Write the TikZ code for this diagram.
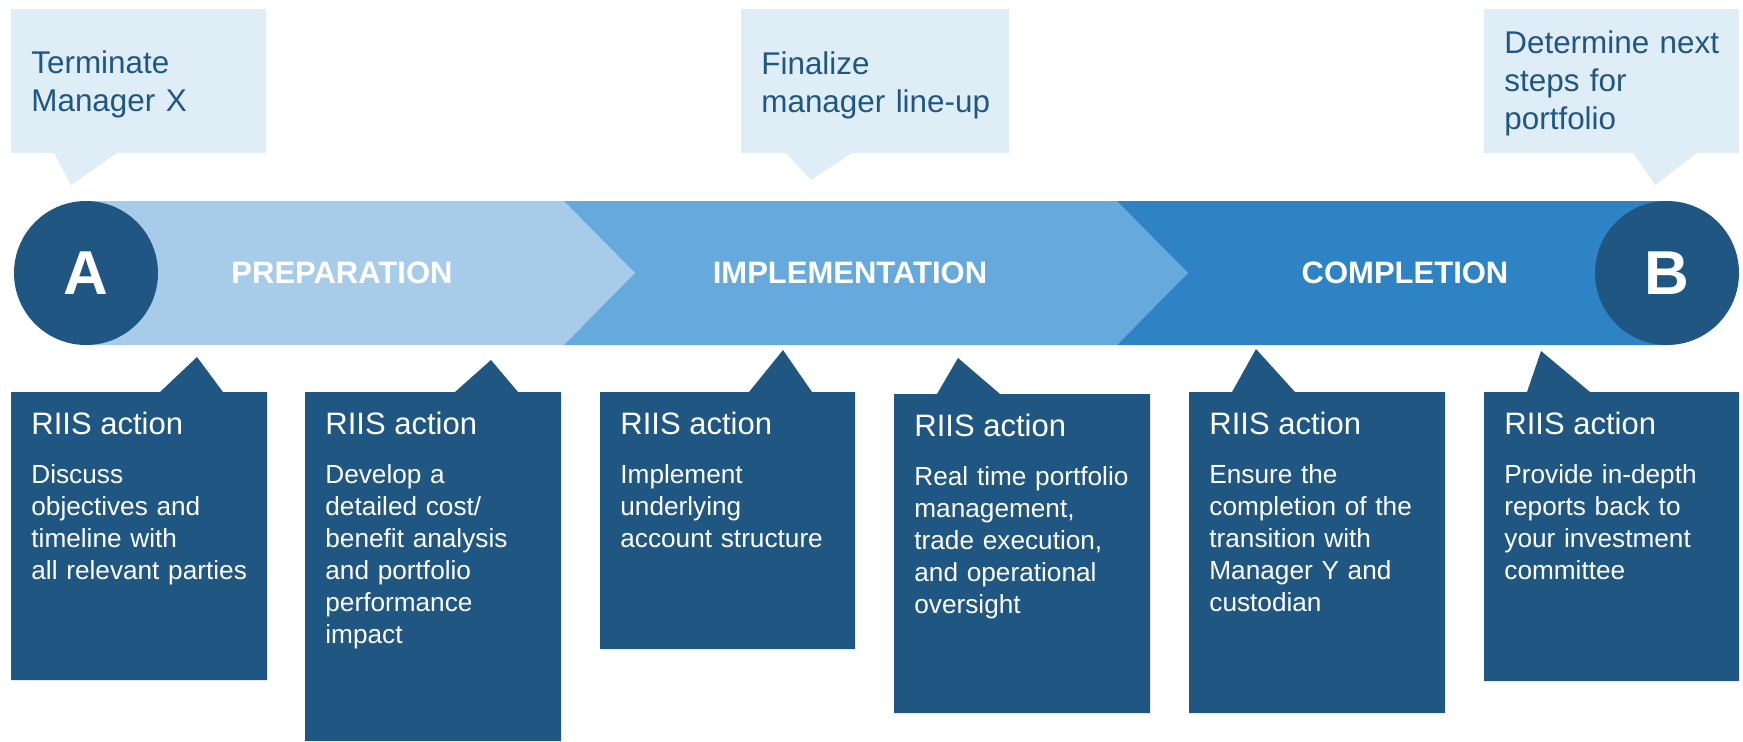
\documentclass[tikz,border=0pt]{standalone}
\usepackage{fontspec}
\setmainfont{Liberation Sans}

\definecolor{navy}{HTML}{1F5782}
\definecolor{bandlight}{HTML}{A6CCEA}
\definecolor{bandmid}{HTML}{66A9DC}
\definecolor{banddark}{HTML}{2E83C5}
\definecolor{calloutbg}{HTML}{DFEDF7}

\tikzset{
  phase/.style={text=white, inner sep=0pt, font=\bfseries\fontsize{15.5}{18}\selectfont},
  milestone/.style={circle, fill=navy, minimum size=72pt, inner sep=0pt, text=white, font=\bfseries\fontsize{31}{36}\selectfont},
  goal/.style={anchor=base west, text=navy, text width=125pt, align=left, inner sep=0pt, font=\fontsize{15.7}{19}\selectfont},
  riis/.style={anchor=base west, text=white, inner sep=0pt, font=\fontsize{15.5}{18}\selectfont},
  task/.style={anchor=base west, text=white, text width=118pt, align=left, inner sep=0pt, font=\fontsize{13.1}{16}\selectfont},
}

\begin{document}
\begin{tikzpicture}[x=0.5pt, y=-0.5pt]
            \useasboundingbox (0,0) rectangle (1743,741);

            % callouts on top
            \fill[calloutbg] (11,9) -- (266,9) -- (266,153) -- (117,153) -- (71,185) -- (54,153) -- (11,153) -- cycle;
            \fill[calloutbg] (741,9) -- (1009,9) -- (1009,153) -- (852,153) -- (811,180) -- (786,153) -- (741,153) -- cycle;
            \fill[calloutbg] (1484,9) -- (1739,9) -- (1739,153) -- (1697,153) -- (1655,185) -- (1633,153) -- (1484,153) -- cycle;
            \node[goal] (goal1) at (31,73) {Terminate\\Manager X};
            \node[goal] (goal2) at (761,74) {Finalize\\manager line-up};
            \node[goal] (goal3) at (1504,53) {Determine next\\steps for\\portfolio};

            % the band
            \fill[bandlight] (86,201) -- (564,201) -- (635,273) -- (564,345) -- (86,345) -- cycle;
            \fill[bandmid] (564,201) -- (1117,201) -- (1188,273) -- (1117,345) -- (564,345) -- (635,273) -- cycle;
            \fill[banddark] (1117,201) -- (1667,201) -- (1667,345) -- (1117,345) -- (1188,273) -- cycle;
            \node[phase] (prep) at (342,273) {PREPARATION};
            \node[phase] (impl) at (850,273) {IMPLEMENTATION};
            \node[phase] (compl) at (1405,273) {COMPLETION};
            \node[milestone] (A) at (86,273) {A};
            \node[milestone] (B) at (1667,273) {B};

            % action boxes below
            \fill[navy] (11,392) -- (160,392) -- (197,357) -- (223,392) -- (267,392) -- (267,680) -- (11,680) -- cycle;
            \fill[navy] (305,392) -- (455,392) -- (491,360) -- (518,392) -- (561,392) -- (561,741) -- (305,741) -- cycle;
            \fill[navy] (600,392) -- (749,392) -- (783,350) -- (812,392) -- (855,392) -- (855,649) -- (600,649) -- cycle;
            \fill[navy] (894,394) -- (937,394) -- (958,358) -- (1000,394) -- (1150,394) -- (1150,713) -- (894,713) -- cycle;
            \fill[navy] (1189,392) -- (1232,392) -- (1256,349) -- (1295,392) -- (1445,392) -- (1445,713) -- (1189,713) -- cycle;
            \fill[navy] (1484,392) -- (1527,392) -- (1541,351) -- (1590,392) -- (1739,392) -- (1739,681) -- (1484,681) -- cycle;

            \node[riis] (head1) at (31,434) {RIIS action};
            \node[riis] (head2) at (325,434) {RIIS action};
            \node[riis] (head3) at (620,434) {RIIS action};
            \node[riis] (head4) at (914,436) {RIIS action};
            \node[riis] (head5) at (1209,434) {RIIS action};
            \node[riis] (head6) at (1504,434) {RIIS action};

            \node[task] (task1) at (31,483) {Discuss\\objectives and\\timeline with\\all relevant parties};
            \node[task] (task2) at (325,483) {Develop a\\detailed cost/\\benefit analysis\\and portfolio\\performance\\impact};
            \node[task] (task3) at (620,483) {Implement\\underlying\\account structure};
            \node[task] (task4) at (914,485) {Real time portfolio\\management,\\trade execution,\\and operational\\oversight};
            \node[task] (task5) at (1209,483) {Ensure the\\completion of the\\transition with\\Manager Y and\\custodian};
            \node[task] (task6) at (1504,483) {Provide in-depth\\reports back to\\your investment\\committee};
        \end{tikzpicture}
\end{document}
